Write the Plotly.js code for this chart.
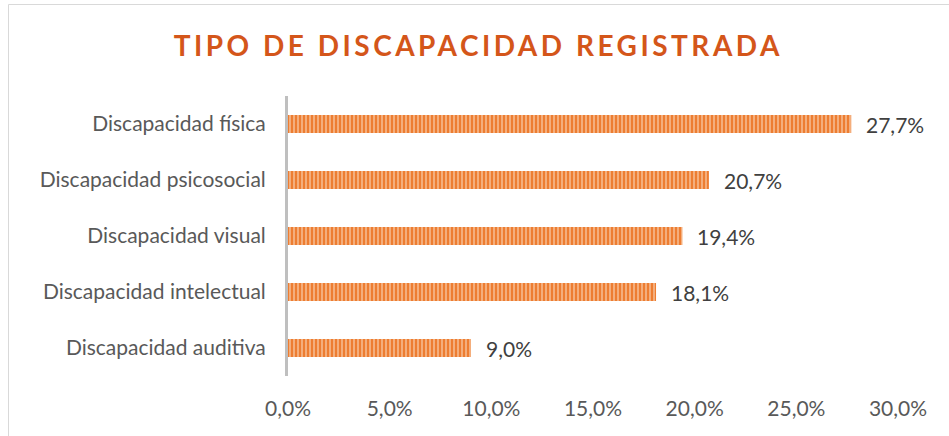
<!DOCTYPE html>
<html>
<head>
<meta charset="utf-8">
<script src="https://cdn.plot.ly/plotly-3.0.1.min.js"></script>
<style>
html,body{margin:0;padding:0;background:#fff;}
#chart{width:949px;height:436px;}
</style>
</head>
<body>
<div id="chart"></div>
<script>
const categories = ["Discapacidad física", "Discapacidad psicosocial", "Discapacidad visual", "Discapacidad intelectual", "Discapacidad auditiva"];
const values = [0.277, 0.207, 0.194, 0.181, 0.090];
const tickValues = [0, 0.05, 0.10, 0.15, 0.20, 0.25, 0.30];

const fontFam = "Lato, 'Open Sans', sans-serif";

function fmt(v) {
  return (v * 100).toFixed(1).replace('.', ',') + '%';
}

const trace = {
  type: 'bar',
  orientation: 'h',
  y: categories,
  x: values,
  width: 0.32,
  marker: {
    color: '#ED7D31',
    line: {width: 0},
    pattern: {shape: '|', bgcolor: '#ED7D31', fgcolor: '#F8C39C', size: 4, solidity: 0.35, fillmode: 'replace'}
  },
  hoverinfo: 'skip'
};

const annotations = categories.map((c, i) => ({
  x: values[i], y: c, xref: 'x', yref: 'y',
  text: fmt(values[i]), showarrow: false,
  xanchor: 'left', xshift: 13,
  font: {family: fontFam, size: 21, color: '#404040'}
}));

const layout = {
  width: 949, height: 436,
  margin: {l: 288, r: 51, t: 96, b: 60},
  paper_bgcolor: '#ffffff', plot_bgcolor: '#ffffff',
  separators: ',.',
  showlegend: false,
  title: {
    text: 'TIPO DE DISCAPACIDAD REGISTRADA',
    x: 0.504, xref: 'container', xanchor: 'center',
    y: 0.895, yref: 'container', yanchor: 'middle',
    font: {family: fontFam, size: 28, color: '#D4561A', weight: 'bold'}
  },
  xaxis: {
    range: [0, 0.30],
    tickvals: tickValues,
    tickformat: '.1%',
    showgrid: false, zeroline: false, showline: false,
    ticks: 'outside', ticklen: 14, tickcolor: 'rgba(0,0,0,0)',
    tickfont: {family: fontFam, size: 21, color: '#595959'},
    fixedrange: true
  },
  yaxis: {
    autorange: 'reversed',
    showgrid: false, zeroline: false,
    showline: true, linecolor: '#BFBFBF', linewidth: 3,
    ticks: 'outside', ticklen: 15, tickcolor: 'rgba(0,0,0,0)',
    tickfont: {family: fontFam, size: 21, color: '#595959'},
    fixedrange: true
  },
  annotations: annotations,
  shapes: [{
    type: 'rect', xref: 'paper', yref: 'paper',
    x0: (8.5 - 288) / 610, x1: 1.2,
    y0: -0.5, y1: (376 - 4.5) / 280,
    line: {color: '#D9D9D9', width: 1}, fillcolor: 'rgba(0,0,0,0)', layer: 'below'
  }]
};

Plotly.newPlot('chart', [trace], layout, {displayModeBar: false, staticPlot: true}).then(() => {
  const t = document.querySelector('.gtitle');
  if (t) t.style.letterSpacing = '3.5px';
});
</script>
</body>
</html>
